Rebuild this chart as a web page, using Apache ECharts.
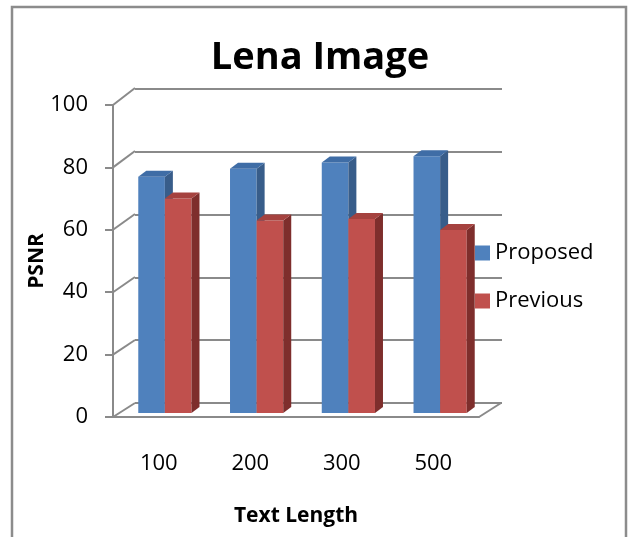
<!DOCTYPE html>
<html>
<head>
<meta charset="utf-8">
<script src="https://cdn.jsdelivr.net/npm/echarts@6/dist/echarts.min.js"></script>
<style>
  html, body { margin: 0; padding: 0; background: #fff; }
  #chart { width: 629px; height: 537px; }
</style>
</head>
<body>
<div id="chart"></div>
<script>
// Chart data
const categories = ['100', '200', '300', '500'];
const proposed = [75.5, 78, 80, 82];
const previous = [68.5, 61.5, 62, 58.5];
const yTicks = [0, 20, 40, 60, 80, 100];

const FONT = '"Open Sans"';
const GRID_COLOR = '#8a8a8a';
// Oblique projection: back wall sits up and to the right of the front plane
const WALL_DX = 22, WALL_DY = -14;
// Depth of each bar
const BAR_DX = 8, BAR_DY = -6;
const BAR_FRAC = 0.29;

const PLOT_W = 367, PLOT_H = 313;

const chart = echarts.init(document.getElementById('chart'), null, { renderer: 'canvas' });

function bar3d(seriesIdx, faces) {
  return function (params, api) {
    const cat = api.value(0);
    const val = api.value(1);
    const base = api.coord([cat, 0]);
    const top = api.coord([cat, val]);
    const band = api.size([1, 0])[0];
    const w = band * BAR_FRAC;
    const x0 = base[0] - w + seriesIdx * w;
    const x1 = x0 + w;
    const yb = base[1], yt = top[1];
    return {
      type: 'group',
      children: [
        { type: 'rect', shape: { x: x0, y: yt, width: w, height: yb - yt },
          style: { fill: faces.front } },
        { type: 'polygon', shape: { points: [[x1, yt], [x1 + BAR_DX, yt + BAR_DY], [x1 + BAR_DX, yb + BAR_DY], [x1, yb]] },
          style: { fill: faces.side } },
        { type: 'polygon', shape: { points: [[x0, yt], [x0 + BAR_DX, yt + BAR_DY], [x1 + BAR_DX, yt + BAR_DY], [x1, yt]] },
          style: { fill: faces.top } }
      ]
    };
  };
}

const option = {
  animation: false,
  backgroundColor: '#fff',
  title: {
    text: 'Lena Image',
    left: 315,
    textAlign: 'center',
    top: 34,
    textStyle: { fontFamily: FONT, fontWeight: 'bold', fontSize: 38, color: '#000' }
  },
  legend: {
    orient: 'vertical',
    left: 475,
    top: 240,
    padding: 0,
    itemWidth: 15,
    itemHeight: 15,
    itemGap: 22,
    icon: 'rect',
    textStyle: { fontFamily: FONT, fontSize: 22, color: '#000', lineHeight: 26 },
    data: ['Proposed', 'Previous']
  },
  graphic: [
    { type: 'rect', shape: { x: 12, y: 7, width: 614, height: 560 },
      style: { fill: null, stroke: '#8c8c8c', lineWidth: 2.5 }, z: 100 }
  ],
  grid: [
    // back wall
    { left: 135, top: 89, width: PLOT_W, height: PLOT_H + 1 },
    // plane of the bars
    { left: 119, top: 100, width: PLOT_W, height: PLOT_H },
    // front plane carrying the axes
    { left: 113, top: 105, width: PLOT_W - 1, height: PLOT_H - 1 }
  ],
  xAxis: [
    { gridIndex: 0, type: 'category', data: categories, show: false },
    { gridIndex: 1, type: 'category', data: categories, show: false },
    { gridIndex: 2, type: 'category', data: categories,
      name: 'Text Length', nameLocation: 'middle', nameGap: 89, nameMoveOverlap: false,
      nameTextStyle: { fontFamily: FONT, fontWeight: 'bold', fontSize: 21, color: '#000' },
      axisLine: { lineStyle: { color: GRID_COLOR, width: 2 } },
      axisTick: { length: 8, lineStyle: { color: GRID_COLOR, width: 2 } },
      axisLabel: { margin: 36, fontFamily: FONT, fontSize: 22, color: '#000' },
      splitLine: { show: false } }
  ],
  yAxis: [
    { gridIndex: 0, type: 'value', min: 0, max: 100, interval: 20,
      axisLine: { show: false }, axisTick: { show: false }, axisLabel: { show: false },
      splitLine: { lineStyle: { color: GRID_COLOR, width: 2 } } },
    { gridIndex: 1, type: 'value', min: 0, max: 100, interval: 20, show: false, splitLine: { show: false } },
    { gridIndex: 2, type: 'value', min: 0, max: 100, interval: 20,
      name: 'PSNR', nameLocation: 'middle', nameGap: 65, nameRotate: 90, nameMoveOverlap: false,
      nameTextStyle: { fontFamily: FONT, fontWeight: 'bold', fontSize: 21, color: '#000' },
      axisLine: { show: true, lineStyle: { color: GRID_COLOR, width: 2 } },
      axisTick: { show: true, length: 8, lineStyle: { color: GRID_COLOR, width: 2 } },
      axisLabel: { margin: 25, fontFamily: FONT, fontSize: 22, color: '#000' },
      splitLine: { show: false } }
  ],
  series: [
    {
      // side-wall and floor edges joining the front axes to the back wall
      type: 'custom', name: 'edges', xAxisIndex: 2, yAxisIndex: 2, silent: true,
      data: yTicks.map(v => [0, v]),
      encode: { x: 0, y: 1 },
      renderItem: function (params, api) {
        const cs = params.coordSys;
        const y = api.coord([0, api.value(1)])[1];
        const style = { stroke: GRID_COLOR, lineWidth: 2 };
        const children = [
          { type: 'line', shape: { x1: cs.x, y1: y, x2: cs.x + WALL_DX, y2: y + WALL_DY - (api.value(1) / 100) * 3 }, style: style }
        ];
        if (api.value(1) === 0) {
          children.push({ type: 'line',
            shape: { x1: cs.x + cs.width, y1: y, x2: cs.x + cs.width + WALL_DX, y2: y + WALL_DY }, style: style });
        }
        return { type: 'group', children: children };
      }
    },
    {
      type: 'custom', name: 'Proposed', xAxisIndex: 1, yAxisIndex: 1,
      itemStyle: { color: '#4F81BD' },
      data: proposed.map((v, i) => [i, v]),
      encode: { x: 0, y: 1 },
      renderItem: bar3d(0, { front: '#4F81BD', side: '#385D8A', top: '#3F6DA6' })
    },
    {
      type: 'custom', name: 'Previous', xAxisIndex: 1, yAxisIndex: 1,
      itemStyle: { color: '#C0504D' },
      data: previous.map((v, i) => [i, v]),
      encode: { x: 0, y: 1 },
      renderItem: bar3d(1, { front: '#C0504D', side: '#7E2E2C', top: '#A5423F' })
    }
  ]
};

chart.setOption(option);
</script>
</body>
</html>
